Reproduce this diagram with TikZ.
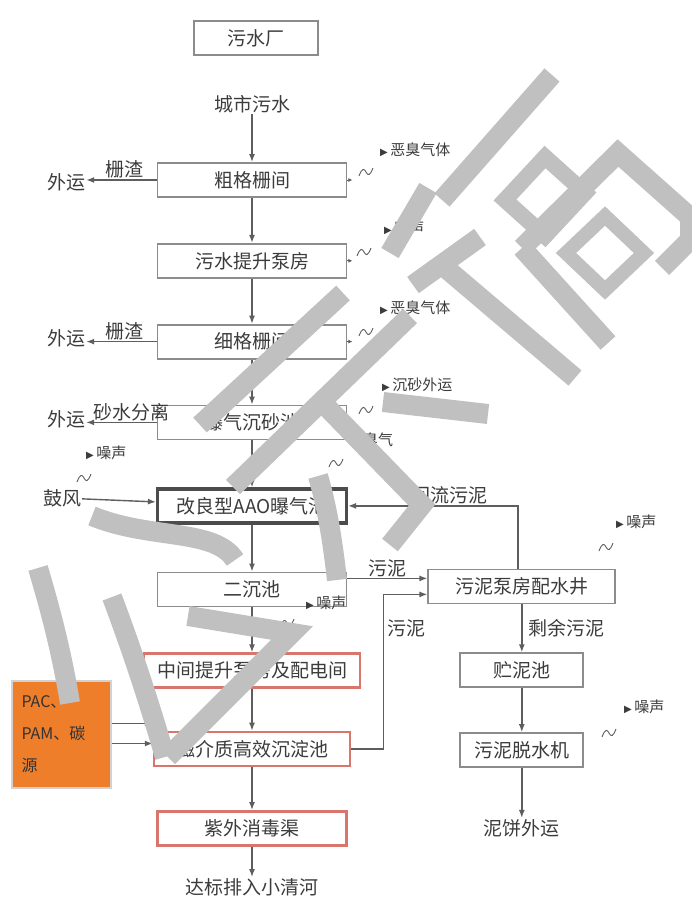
\documentclass[tikz,border=0pt]{standalone}
\usepackage{fontspec}
\setmainfont{Noto Sans CJK SC}
\newfontfamily\symfont{DejaVu Sans}
\usetikzlibrary{arrows.meta,positioning,calc}
\definecolor{framegray}{HTML}{8C8C8C}
\definecolor{flowgray}{HTML}{5E5E5E}
\definecolor{labelgray}{HTML}{3C3C3C}
\definecolor{redframe}{HTML}{D8766E}
\definecolor{dosing}{HTML}{EF7E2B}
\definecolor{stampgray}{HTML}{C0C0C0}
\newcommand{\tri}{{\symfont\fontsize{10}{10}\selectfont ▶}}

\begin{document}
\begin{tikzpicture}[x=1pt,y=-1pt,
    node distance=45pt and 80pt,
    font=\fontsize{19}{21}\selectfont,
    unit/.style={draw=framegray,line width=1.8pt,minimum width=189pt,minimum height=34pt,inner sep=0pt,text=labelgray,fill=white},
    redunit/.style={unit,draw=redframe,line width=2.4pt},
    mainunit/.style={unit,draw=black!70,line width=3.2pt},
    lbl/.style={text=labelgray,inner sep=1pt},
    emit/.style={text=labelgray,font=\fontsize{15}{17}\selectfont,anchor=west,inner sep=0pt},
    flow/.style={draw=flowgray,line width=1.4pt,-{Latex[length=8pt,width=6pt]}},
    tick/.style={draw=flowgray,line width=0.8pt,-{Latex[length=4pt,width=4pt]}},
    squig/.pic={\draw[flowgray,line width=0.9pt] (-7,4) .. controls (-4,-4) and (-2,-4) .. (0,0) .. controls (2,4) and (4,4) .. (7,-4);},
    stamp/.style={draw=stampgray,line width=20pt}
  ]
  \fill[white] (0,0) rectangle (692,905);
  \useasboundingbox (0,0) rectangle (692,905);

  % main line
  \node[unit,minimum width=124pt] (plant) at (256,38) {污水厂};
  \node[lbl] (inflow) at (252,104) {城市污水};
  \node[unit] (coarse) at (252,180) {粗格栅间};
  \node[unit,below=of coarse] (lift) {污水提升泵房};
  \node[unit,below=of lift] (fine) {细格栅间};
  \node[unit,below=of fine] (grit) {曝气沉砂池};
  \node[mainunit,below=47pt of grit] (aao) {改良型AAO曝气池};
  \node[unit,below=47pt of aao] (clar) {二沉池};
  \node[redunit,minimum width=216pt,below=45pt of clar] (mid) {中间提升泵房及配电间};
  \node[redunit,minimum width=196pt,below=42pt of mid] (hes) {磁介质高效沉淀池};
  \node[redunit,below=43pt of hes] (uv) {紫外消毒渠};
  \node[lbl] (outlet) at (252,887) {达标排入小清河};

  \draw[flow] (inflow) -- (coarse);
  \draw[flow] (coarse) -- (lift);
  \draw[flow] (lift) -- (fine);
  \draw[flow] (fine) -- (grit);
  \draw[flow] (grit) -- (aao);
  \draw[flow] (aao) -- (clar);
  \draw[flow] (clar) -- (mid);
  \draw[flow] (mid) -- (hes);
  \draw[flow] (hes) -- (uv);
  \draw[flow] (uv) -- (outlet);

  % screenings and grit to the left
  \node[lbl] (out1) at (66,182) {外运};
  \node[lbl] (out2) at (66,338) {外运};
  \node[lbl] (out3) at (66,419) {外运};
  \node[lbl] (blow) at (62,498) {鼓风};
  \draw[flow] (coarse.west) -- node[lbl,above,pos=0.45]{栅渣} (coarse.west -| out1.east);
  \draw[flow] (fine.west) -- node[lbl,above,pos=0.45]{栅渣} (fine.west -| out2.east);
  \draw[flow] (grit.west) -- node[lbl,above,pos=0.35]{砂水分离} (grit.west -| out3.east);
  \draw[flow] (blow) -- (aao);

  % sludge line
  \node[unit,minimum width=187pt,right=80pt of clar,yshift=3pt] (sludge) {污泥泵房配水井};
  \node[unit,minimum width=123pt,below=48pt of sludge] (store) {贮泥池};
  \node[unit,minimum width=123pt,below=44pt of store] (dewater) {污泥脱水机};
  \node[lbl,below=50pt of dewater] (cake) {泥饼外运};
  \coordinate (inA) at ($(sludge.west)+(0,-8)$);
  \coordinate (inB) at ($(sludge.west)+(0,8)$);
  \coordinate (riser) at ($(inB)+(-44,0)$);
  \draw[flow] (inA -| clar.east) -- node[lbl,above]{污泥} (inA);
  \draw[flow] (hes.east) -| (riser) -- (inB);
  \node[lbl] at (406,628) {污泥};
  \draw[flow] ($(sludge.north)+(-4,0)$) |- node[lbl,above,pos=0.7]{回流污泥} (aao.east);
  \draw[flow] (sludge) -- node[lbl,right=5pt]{剩余污泥} (store);
  \draw[flow] (store) -- (dewater);
  \draw[flow] (dewater) -- (cake);

  % dosing
  \node[draw=gray!35,line width=2pt,fill=dosing,minimum width=99pt,minimum height=107pt,
        anchor=north west,align=left,text width=80pt,inner sep=8pt,
        font=\fontsize{16}{32}\selectfont,text=black!80] (dose) at (11,680) {PAC、\\PAM、碳\\源};
  \coordinate (doseA) at ($(dose.east)+(0,-11)$);
  \coordinate (doseB) at ($(dose.east)+(0,9)$);
  \draw[flow] (doseA) -- (doseA -| hes.west);
  \draw[flow] (doseB) -- (doseB -| hes.west);

  % emissions
  \foreach \u in {coarse,lift,fine,grit}
    \draw[tick] (\u.east) -- ++(5,0);
  \node[emit] (e1) at (380,150) {\tri\,恶臭气体};
  \node[emit] (e2) at (384,228) {\tri\,噪声};
  \node[emit] (e3) at (380,308) {\tri\,恶臭气体};
  \node[emit] (e4) at (382,385) {\tri\,沉砂外运};
  \node[emit] (e5) at (86,453) {\tri\,噪声};
  \node[emit] (e6) at (616,522) {\tri\,噪声};
  \node[emit] (e7) at (306,603) {\tri\,噪声};
  \node[emit] (e8) at (624,707) {\tri\,噪声};
  \node[lbl,font=\fontsize{15}{17}\selectfont] (odor) at (378,440) {臭气};
  \foreach \p in {(366,172),(364,252),(366,332),(366,410),(84,478),(336,463),(606,547),(287,623),(609,733)}
    \pic at \p {squig};

  % watermark
  \draw[stamp] (38,568) .. controls (52,615) and (62,655) .. (70,703);
  \draw[stamp] (112,597) .. controls (132,650) and (150,705) .. (165,757);
  \draw[stamp] (188,616) -- (292,633) -- (168,757);
  \draw[stamp] (92,516) .. controls (150,540) and (215,528) .. (235,560);
  \draw[stamp] (318,476) .. controls (328,510) and (333,545) .. (337,580);
  \draw[stamp] (343,293) -- (200,425);
  \draw[stamp] (410,316) -- (233,487);
  \draw[stamp] (318,398) -- (422,505) -- (390,545);
  \draw[stamp] (383,402) -- (488,414);
  \draw[stamp] (552,75) -- (442,200);
  \draw[stamp,line width=16pt] (505,200) -- (545,157) -- (585,193) -- (545,236) -- cycle;
  \draw[stamp] (522,248) -- (618,153) -- (690,217) -- (690,240) -- (662,268);
  \draw[stamp] (522,248) -- (608,343);
  \draw[stamp,line width=14pt] (566,253) -- (605,216) -- (644,253) -- (605,290) -- cycle;
  \draw[stamp] (428,188) -- (390,253);
  \draw[stamp] (480,237) -- (413,285);
  \draw[stamp] (442,265) -- (575,378);
\end{tikzpicture}
\end{document}
